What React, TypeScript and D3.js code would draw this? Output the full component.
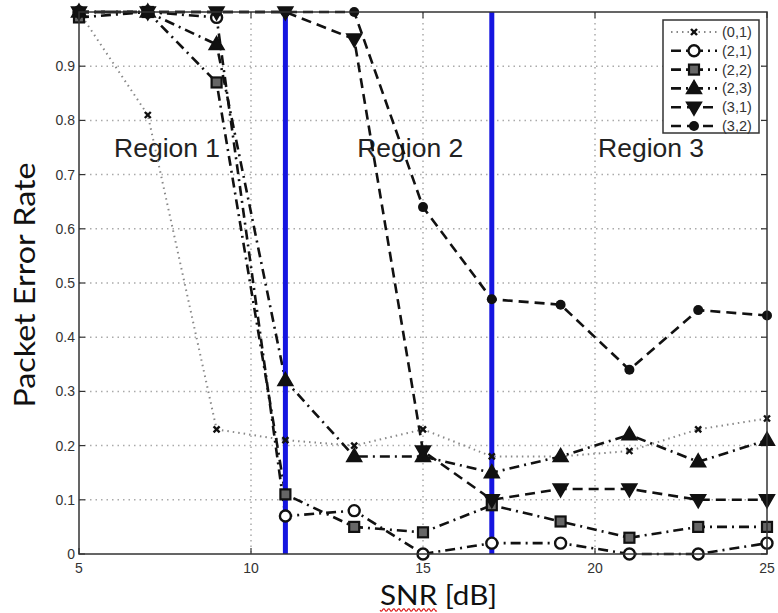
import React from "react";
import * as d3 from "d3";

const snr = [5, 7, 9, 11, 13, 15, 17, 19, 21, 23, 25];
const s01 = [1.0, 0.81, 0.23, 0.21, 0.2, 0.23, 0.18, 0.18, 0.19, 0.23, 0.25];
const s21 = [1.0, 1.0, 0.99, 0.07, 0.08, 0.0, 0.02, 0.02, 0.0, 0.0, 0.02];
const s22 = [0.99, 1.0, 0.87, 0.11, 0.05, 0.04, 0.09, 0.06, 0.03, 0.05, 0.05];
const s23 = [1.0, 1.0, 0.94, 0.32, 0.18, 0.18, 0.15, 0.18, 0.22, 0.17, 0.21];
const s31 = [1.0, 1.0, 1.0, 1.0, 0.95, 0.19, 0.1, 0.12, 0.12, 0.1, 0.1];
const s32 = [1.0, 1.0, 1.0, 1.0, 1.0, 0.64, 0.47, 0.46, 0.34, 0.45, 0.44];
const seriesNames = ["(0,1)", "(2,1)", "(2,2)", "(2,3)", "(3,1)", "(3,2)"];
const xTicks = [5, 10, 15, 20, 25];
const yTicks = [0, 0.1, 0.2, 0.3, 0.4, 0.5, 0.6, 0.7, 0.8, 0.9];
const regionBounds = [11, 17];
const regionLabels = [
  { text: "Region 1", x: 7.56 },
  { text: "Region 2", x: 14.63 },
  { text: "Region 3", x: 21.63 },
];

type Marker = "x" | "circle" | "square" | "triUp" | "triDown" | "dot";
const styles: { dash: string; marker: Marker; color: string; width: number }[] = [
  { dash: "1.5,4", marker: "x", color: "#888", width: 2 },
  { dash: "10,5,2,5", marker: "circle", color: "#111", width: 2.6 },
  { dash: "10,5,2,5", marker: "square", color: "#111", width: 2.6 },
  { dash: "10,5,2,5", marker: "triUp", color: "#111", width: 2.6 },
  { dash: "10,6", marker: "triDown", color: "#111", width: 2.6 },
  { dash: "10,6", marker: "dot", color: "#111", width: 2.6 },
];
const allSeries = [s01, s21, s22, s23, s31, s32];

const W = 778;
const H = 613;
const left = 79;
const right = 767;
const top = 12;
const bottom = 554;

function MarkerShape({ type, cx, cy }: { type: Marker; cx: number; cy: number }) {
  switch (type) {
    case "x":
      return (
        <g stroke="#111" strokeWidth={2.4}>
          <line x1={cx - 3} y1={cy - 3} x2={cx + 3} y2={cy + 3} />
          <line x1={cx - 3} y1={cy + 3} x2={cx + 3} y2={cy - 3} />
        </g>
      );
    case "circle":
      return <circle cx={cx} cy={cy} r={5.5} fill="white" stroke="#111" strokeWidth={2.4} />;
    case "square":
      return <rect x={cx - 5} y={cy - 5} width={10} height={10} fill="#666" stroke="#111" strokeWidth={2.2} />;
    case "triUp":
      return (
        <path
          d={`M${cx},${cy - 8}L${cx + 7.5},${cy + 5}L${cx - 7.5},${cy + 5}Z`}
          fill="#111"
          stroke="#111"
          strokeWidth={1.5}
        />
      );
    case "triDown":
      return (
        <path
          d={`M${cx},${cy + 8}L${cx + 7.5},${cy - 5}L${cx - 7.5},${cy - 5}Z`}
          fill="#111"
          stroke="#111"
          strokeWidth={1.5}
        />
      );
    case "dot":
      return <circle cx={cx} cy={cy} r={5} fill="#111" />;
  }
}

export default function App() {
  const x = d3.scaleLinear().domain([5, 25]).range([left, right]);
  const y = d3.scaleLinear().domain([0, 1]).range([bottom, top]);
  const line = d3
    .line<[number, number]>()
    .x((d) => x(d[0]))
    .y((d) => y(d[1]));

  // wavy underline for SNR
  const wave: [number, number][] = [];
  for (let px = 380; px <= 437; px += 1) {
    wave.push([px, 610 + 1.4 * Math.sin(((px - 380) / 2.5) * Math.PI)]);
  }
  const wavePath = d3.line()(wave) || "";

  const legX = 663;
  const legY = 20;
  const legW = 96;
  const legH = 113;

  return (
    <svg
      width={W}
      height={H}
      style={{ position: "absolute", left: 0, top: 0, background: "white" }}
      fontFamily="'Liberation Sans', Arial, sans-serif"
    >
      <rect x={0} y={0} width={W} height={H} fill="white" />
      {/* grid */}
      {yTicks.slice(1).map((t) => (
        <line key={"gy" + t} x1={left} x2={right} y1={y(t)} y2={y(t)} stroke="#aaa" strokeWidth={1.5} strokeDasharray="1.5,4" />
      ))}
      {xTicks.slice(1, -1).map((t) => (
        <line key={"gx" + t} x1={x(t)} x2={x(t)} y1={top} y2={bottom} stroke="#aaa" strokeWidth={1.5} strokeDasharray="1.5,4" />
      ))}
      {/* ticks */}
      {yTicks.map((t) => (
        <g key={"ty" + t}>
          <line x1={left} x2={left + 6} y1={y(t)} y2={y(t)} stroke="#333" strokeWidth={1.2} />
          <line x1={right} x2={right - 6} y1={y(t)} y2={y(t)} stroke="#333" strokeWidth={1.2} />
          <text x={left - 4} y={y(t) + 5} textAnchor="end" fontSize={14} fill="#333">
            {t === 0 ? "0" : String(t)}
          </text>
        </g>
      ))}
      {xTicks.map((t) => (
        <g key={"tx" + t}>
          <line x1={x(t)} x2={x(t)} y1={bottom} y2={bottom - 6} stroke="#333" strokeWidth={1.2} />
          <line x1={x(t)} x2={x(t)} y1={top} y2={top + 6} stroke="#333" strokeWidth={1.2} />
          <text x={x(t)} y={bottom + 19} textAnchor="middle" fontSize={14} fill="#333">
            {t}
          </text>
        </g>
      ))}
      {/* region labels */}
      {regionLabels.map((r) => (
        <text key={r.text} x={x(r.x)} y={157} textAnchor="middle" fontSize={26.5} fill="#222">
          {r.text}
        </text>
      ))}
      {/* series */}
      {allSeries.map((s, i) => {
        const pts: [number, number][] = snr.map((v, j) => [v, s[j]]);
        return (
          <path
            key={"l" + i}
            d={line(pts) || ""}
            fill="none"
            stroke={styles[i].color}
            strokeWidth={styles[i].width}
            strokeDasharray={styles[i].dash}
          />
        );
      })}
      {/* blue region lines */}
      {regionBounds.map((b) => (
        <line key={"b" + b} x1={x(b)} x2={x(b)} y1={y(0)} y2={y(1)} stroke="#1515e0" strokeWidth={5} />
      ))}
      {allSeries.map((s, i) =>
        snr.map((v, j) => <MarkerShape key={"m" + i + "-" + j} type={styles[i].marker} cx={x(v)} cy={y(s[j])} />)
      )}
      {/* frame */}
      <rect x={left} y={top} width={right - left} height={bottom - top} fill="none" stroke="#333" strokeWidth={1.5} />
      {/* legend */}
      <rect x={legX} y={legY} width={legW} height={legH} fill="white" stroke="#333" strokeWidth={1.5} />
      {seriesNames.map((n, i) => {
        const ly = legY + 12 + i * 18.8;
        return (
          <g key={"lg" + i}>
            <line
              x1={legX + 8}
              x2={legX + 54}
              y1={ly}
              y2={ly}
              stroke={styles[i].color}
              strokeWidth={styles[i].width}
              strokeDasharray={styles[i].dash}
            />
            <MarkerShape type={styles[i].marker} cx={legX + 31} cy={ly} />
            <text x={legX + 59} y={ly + 5} fontSize={14.5} fill="#333">
              {n}
            </text>
          </g>
        );
      })}
      {/* axis titles */}
      <text
        transform={`translate(35,285) rotate(-90)`}
        textAnchor="middle"
        fontSize={29}
        fontFamily="Lato, 'Open Sans', sans-serif"
        fill="#111"
        textLength={245}
        lengthAdjust="spacingAndGlyphs"
      >
        Packet Error Rate
      </text>
      <text
        x={438.5}
        y={605}
        textAnchor="middle"
        fontSize={27}
        fontFamily="Lato, 'Open Sans', sans-serif"
        fill="#111"
        textLength={117}
        lengthAdjust="spacingAndGlyphs"
      >
        SNR [dB]
      </text>
      <path d={wavePath} fill="none" stroke="#d22" strokeWidth={1.2} />
    </svg>
  );
}
